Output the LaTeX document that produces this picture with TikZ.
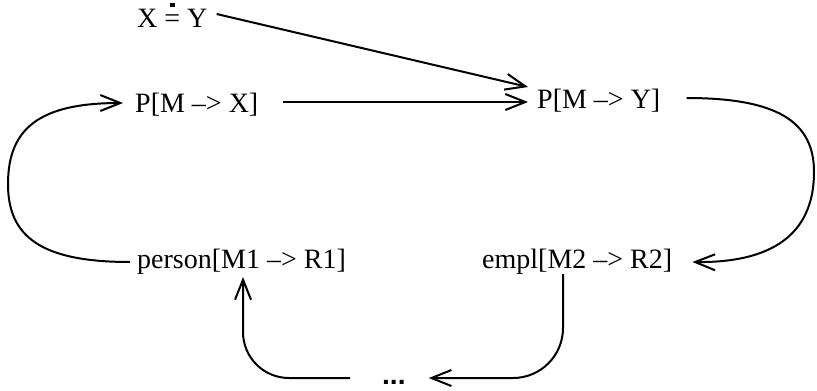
\documentclass[tikz,border=0pt]{standalone}
\usepackage{fontspec}
\setmainfont{Liberation Serif}
\newfontfamily\dotsfont{Liberation Sans}
\usetikzlibrary{arrows.meta,calc}

% "dot-equals": an equals sign with a square dot on top
\newcommand{\dotequal}{\ooalign{=\cr\hidewidth\raisebox{0.70em}{\rule{0.16em}{0.16em}}\hidewidth\cr}}

\tikzset{
  term/.style={inner sep=0pt, anchor=base west, font=\fontsize{28}{30}\selectfont},
  link/.style={line width=2pt, -{Straight Barb[length=20pt,width=16pt,line width=2pt]}},
}

\begin{document}
\begin{tikzpicture}[x=1pt,y=-1pt]
  \useasboundingbox (0,0) rectangle (817,391);

  % terms
  \node[term] (xy)     at (137,27)  {X \dotequal{} Y};
  \node[term] (pmx)    at (135,112) {P[M –> X]};
  \node[term] (pmy)    at (537,108) {P[M –> Y]};
  \node[term] (person) at (137,268) {person[M1 –> R1]};
  \node[term] (empl)   at (482,268) {empl[M2 –> R2]};
  \node[term, font=\dotsfont\bfseries\fontsize{28}{30}\selectfont] (dots) at (382,384) {...};

  % X = Y  to  P[M -> Y]
  \draw[link] ($(xy.base east)+(9,-13)$) -- ($(pmy.base west)+(-9,-21)$);
  % P[M -> X]  to  P[M -> Y]
  \draw[link] ($(pmx.base east)+(24,-10)$) -- ($(pmy.base west)+(-9,-6)$);
  % P[M -> Y]  around the right side to  empl[...]
  \draw[link] ($(pmy.base east)+(26,-10)$)
    .. controls (778,98) and (814,122) .. (814,172)
    .. controls (814,228) and (780,263) .. ($(empl.base east)+(20,-6)$);
  % empl[...]  down to the dots
  \draw[link, rounded corners=50pt] ($(empl.base west)+(81,6)$) |- ($(dots.base east)+(23,-6)$);
  % dots  up to  person[...]
  \draw[link, rounded corners=46pt] ($(dots.base west)+(-32,-6)$) -| ($(person.base west)+(106,9)$);
  % person[...]  around the left side to  P[M -> X]
  \draw[link] ($(person.base west)+(-7,-6)$)
    .. controls (40,262) and (8,236) .. (8,184)
    .. controls (8,128) and (40,103) .. ($(pmx.base west)+(-12,-9)$);
\end{tikzpicture}
\end{document}
